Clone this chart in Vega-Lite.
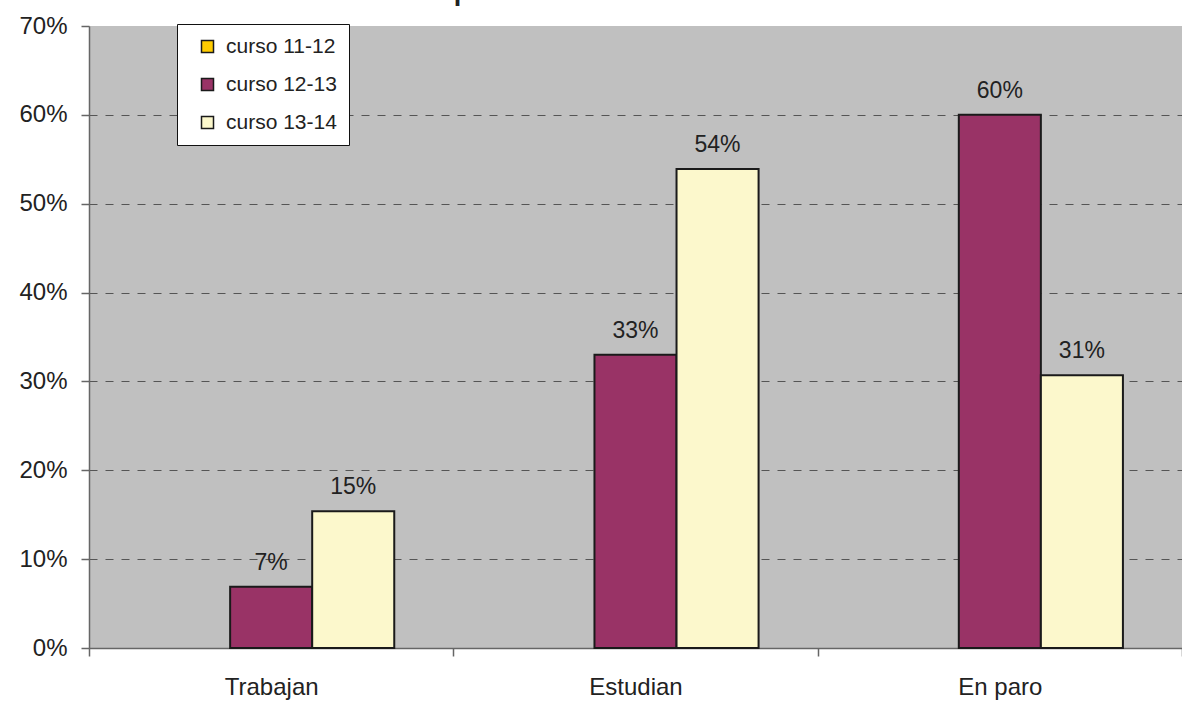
{
  "$schema": "https://vega.github.io/schema/vega-lite/v6.json",
  "width": 1093,
  "height": 622,
  "autosize": {"type": "none"},
  "padding": {"left": 89, "top": 26, "right": 0, "bottom": 54},
  "background": "white",
  "title": {
    "text": "Comparativa con años anteriores",
    "fontSize": 27,
    "fontWeight": "bold",
    "font": "Liberation Sans",
    "color": "#222222",
    "anchor": "middle",
    "dx": -28,
    "dy": 25,
    "offset": 12,
    "baseline": "alphabetic"
  },
  "config": {
    "font": "Liberation Sans",
    "view": {"fill": "#C0C0C0", "stroke": null}
  },
  "data": {
    "values": [
      {"cat": "Trabajan", "serie": "curso 12-13", "v": 0.069},
      {"cat": "Trabajan", "serie": "curso 13-14", "v": 0.154},
      {"cat": "Estudian", "serie": "curso 12-13", "v": 0.33},
      {"cat": "Estudian", "serie": "curso 13-14", "v": 0.539},
      {"cat": "En paro", "serie": "curso 12-13", "v": 0.6},
      {"cat": "En paro", "serie": "curso 13-14", "v": 0.307}
    ]
  },
  "encoding": {
    "x": {
      "field": "cat",
      "type": "nominal",
      "sort": ["Trabajan", "Estudian", "En paro"],
      "scale": {"paddingInner": 0, "paddingOuter": 0},
      "axis": {
        "title": null,
        "labelAngle": 0,
        "tickBand": "extent",
        "labelFontSize": 24,
        "labelColor": "#222222",
        "labelPadding": 19,
        "tickSize": 8,
        "domainColor": "#666666",
        "tickColor": "#666666",
        "domainWidth": 1.5,
        "tickWidth": 1.5
      }
    },
    "xOffset": {
      "field": "serie",
      "type": "nominal",
      "scale": {"domain": ["curso 11-12", "curso 12-13", "curso 13-14"], "paddingInner": 0, "paddingOuter": 0.72}
    },
    "y": {
      "field": "v",
      "type": "quantitative",
      "scale": {"domain": [0, 0.7], "nice": false},
      "axis": {
        "title": null,
        "format": ".0%",
        "values": [0, 0.1, 0.2, 0.3, 0.4, 0.5, 0.6, 0.7],
        "labelFontSize": 24,
        "labelColor": "#222222",
        "labelPadding": 14,
        "tickSize": 8,
        "domainColor": "#666666",
        "tickColor": "#666666",
        "domainWidth": 1.5,
        "tickWidth": 1.5,
        "grid": true,
        "gridColor": "#555555",
        "gridDash": [8, 8],
        "gridWidth": 1,
        "gridOpacity": {"condition": {"test": "datum.value >= 0.69", "value": 0}, "value": 1}
      }
    }
  },
  "layer": [
    {
      "mark": {"type": "bar", "stroke": "#1a1a1a", "strokeWidth": 2},
      "encoding": {
        "color": {
          "field": "serie",
          "type": "nominal",
          "scale": {
            "domain": ["curso 11-12", "curso 12-13", "curso 13-14"],
            "range": ["#FFCC00", "#993366", "#FCF8CC"]
          },
          "legend": {
            "orient": "none",
            "legendX": 88,
            "legendY": -2,
            "title": null,
            "fillColor": "white",
            "strokeColor": "#111111",
            "padding": 12,
            "symbolOffset": 8,
            "symbolType": "square",
            "symbolSize": 144,
            "symbolStrokeColor": "#1a1a1a",
            "symbolStrokeWidth": 1.5,
            "symbolOpacity": 1,
            "labelFontSize": 21,
            "labelColor": "#222222",
            "labelOffset": 8,
            "rowPadding": 16,
            "cornerRadius": 0
          }
        }
      }
    },
    {
      "mark": {"type": "text", "dy": -17, "baseline": "alphabetic", "fontSize": 23, "color": "#222222"},
      "encoding": {"text": {"field": "v", "type": "quantitative", "format": ".0%"}}
    }
  ]
}
